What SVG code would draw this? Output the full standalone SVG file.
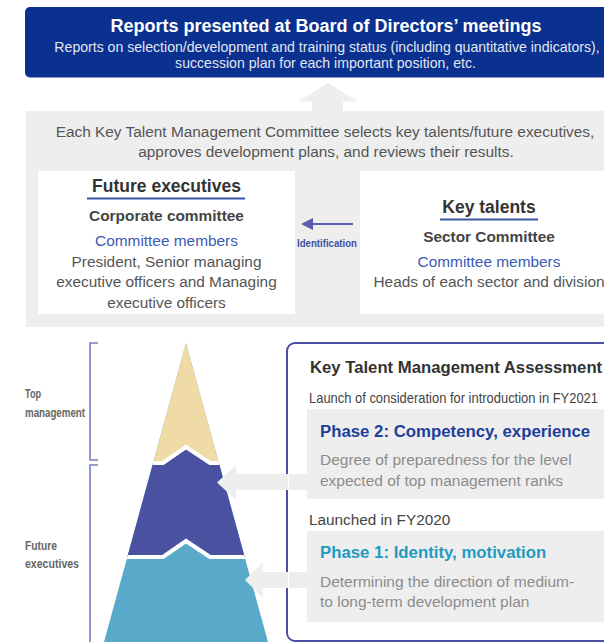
<svg xmlns="http://www.w3.org/2000/svg" width="604" height="642" viewBox="0 0 604 642">
<style>
text{font-family:"Liberation Sans",Arial,Helvetica,sans-serif}
.c{text-anchor:middle}
.b{font-weight:bold}
.body{font-size:15.4px;fill:#555}
.blue{font-size:15.4px;fill:#3b5bb5}
.head{font-size:17.5px;fill:#333;font-weight:bold}
.sub{font-size:15.4px;fill:#444;font-weight:bold}
.desc{font-size:15.5px;fill:#8c8c8c}
.lbl{font-size:12px;font-weight:bold;fill:#666}
.gray{fill:#eeeeee}
.ul{stroke:#3a55a5;stroke-width:2}
.br{fill:none;stroke:#7a80c4;stroke-width:1.6}
.sep{fill:none;stroke:#ffffff;stroke-width:4;stroke-linejoin:miter}
</style>
<defs>
<clipPath id="tri"><polygon points="186,343 104,642 268,642"/></clipPath>
</defs>
<rect width="604" height="642" fill="#ffffff"/>

<g id="board">
<rect x="25" y="7" width="602" height="70.5" rx="5" fill="#0a318f"/>
<text class="c b" x="326" y="31.5" font-size="18" fill="#ffffff">Reports presented at Board of Directors’ meetings</text>
<text class="c" x="327" y="52" font-size="14.1" fill="#e2e6f3">Reports on selection/development and training status (including quantitative indicators),</text>
<text class="c" x="325.5" y="68" font-size="14.1" fill="#e2e6f3">succession plan for each important position, etc.</text>
</g>

<g id="committee-panel">
<rect class="gray" x="26" y="111" width="600" height="216"/>
<text class="c body" x="325" y="137">Each Key Talent Management Committee selects key talents/future executives,</text>
<text class="c body" x="326" y="157">approves development plans, and reviews their results.</text>
</g>

<g id="future-executives">
<rect x="38" y="171" width="257" height="143" fill="#ffffff"/>
<text class="c head" x="166.5" y="192">Future executives</text>
<line class="ul" x1="87" y1="198.5" x2="245" y2="198.5"/>
<text class="c sub" x="166.5" y="221">Corporate committee</text>
<text class="c blue" x="166.5" y="246">Committee members</text>
<text class="c body" x="166.5" y="267">President, Senior managing</text>
<text class="c body" x="166.5" y="287">executive officers and Managing</text>
<text class="c body" x="166.5" y="308">executive officers</text>
</g>

<g id="key-talents">
<rect x="360" y="171" width="260" height="143" fill="#ffffff"/>
<text class="c head" x="489" y="213">Key talents</text>
<line class="ul" x1="440" y1="219.5" x2="538" y2="219.5"/>
<text class="c sub" x="489" y="242">Sector Committee</text>
<text class="c blue" x="489" y="267">Committee members</text>
<text class="c body" x="489" y="287">Heads of each sector and division</text>
</g>

<g id="levels">
<polyline class="br" points="98,343 90,343 90,460 98,460"/>
<polyline class="br" points="98,465 90,465 90,645"/>
<text class="lbl" x="25" y="398" textLength="16" lengthAdjust="spacingAndGlyphs">Top</text>
<text class="lbl" x="25" y="417" textLength="60" lengthAdjust="spacingAndGlyphs">management</text>
<text class="lbl" x="25" y="550" textLength="32" lengthAdjust="spacingAndGlyphs">Future</text>
<text class="lbl" x="25" y="568" textLength="54" lengthAdjust="spacingAndGlyphs">executives</text>
</g>

<g id="pyramid" clip-path="url(#tri)">
<rect x="100" y="340" width="180" height="305" fill="#59aac8"/>
<polygon points="100,463 163,463 186,447 210,463 280,463 280,557 210,557 186,541 163,557 100,557" fill="#4a51a0"/>
<polygon points="100,340 280,340 280,463 210,463 186,447 163,463 100,463" fill="#f0dba6"/>
<polyline class="sep" points="100,463 163,463 186,447 210,463 280,463"/>
<polyline class="sep" points="100,557 163,557 186,541 210,557 280,557"/>
</g>

<g id="assessment">
<rect class="gray" x="307" y="409" width="320" height="90"/>
<rect class="gray" x="307" y="531" width="320" height="91"/>
<rect x="287" y="343" width="340" height="298" rx="8" fill="none" stroke="#4a51a0" stroke-width="2"/>
<text class="b" x="310" y="373" font-size="16.7" fill="#333">Key Talent Management Assessment</text>
<text x="309" y="403" font-size="15" fill="#444" textLength="289" lengthAdjust="spacingAndGlyphs">Launch of consideration for introduction in FY2021</text>
<text class="b" x="320" y="437" font-size="16.8" fill="#1d3f9b">Phase 2: Competency, experience</text>
<text class="desc" x="320" y="465">Degree of preparedness for the level</text>
<text class="desc" x="320" y="486">expected of top management ranks</text>
<text x="309" y="525" font-size="15.3" fill="#444">Launched in FY2020</text>
<text class="b" x="320" y="558" font-size="16.8" fill="#1f9bc2">Phase 1: Identity, motivation</text>
<text class="desc" x="320" y="587">Determining the direction of medium-</text>
<text class="desc" x="320" y="607">to long-term development plan</text>
</g>

<g id="connectors">
<polygon class="gray" points="328,83 358,101.5 343,101.5 343,112 312,112 312,101.5 298,101.5"/>
<line x1="353" y1="224" x2="311" y2="224" stroke="#5a5eae" stroke-width="2"/>
<polygon points="301,224 313,218 313,230" fill="#5a5eae"/>
<text class="b" x="297" y="247" font-size="11" fill="#3f4fa8" textLength="60" lengthAdjust="spacingAndGlyphs">Identification</text>
<polygon class="gray" points="217,482.5 236,465 236,474 288,474 288,490 236,490 236,500"/>
<rect class="gray" x="289" y="474" width="19" height="16"/>
<polygon class="gray" points="245,580 263,562 263,572 288,572 288,588 263,588 263,598"/>
<rect class="gray" x="289" y="572" width="19" height="16"/>
</g>
</svg>
